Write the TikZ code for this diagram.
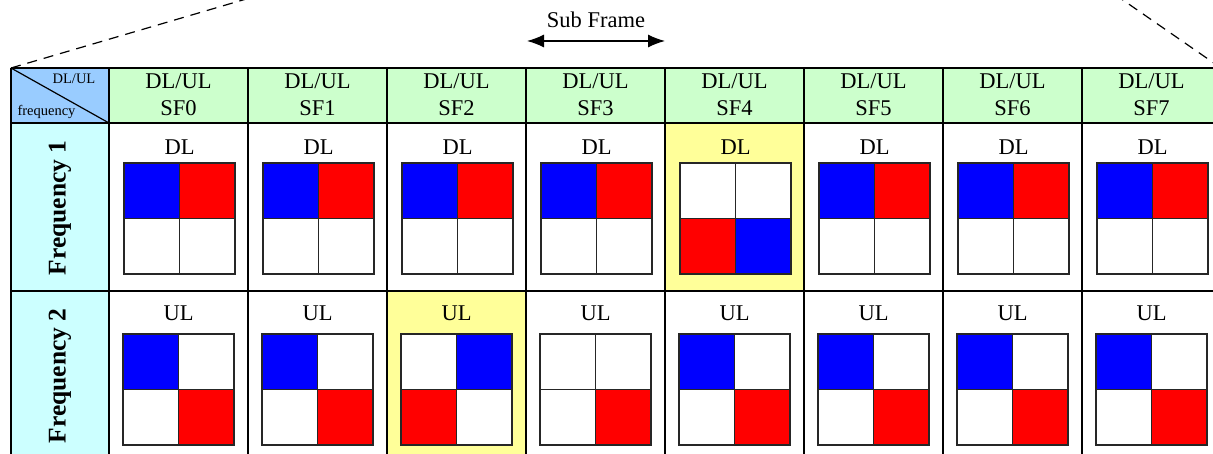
\documentclass[tikz,border=0pt]{standalone}
\usepackage{fontspec}
\setmainfont{Liberation Serif}
\usetikzlibrary{arrows.meta}
\definecolor{hdrgreen}{HTML}{CCFFCC}
\definecolor{cornerblue}{HTML}{99CCFF}
\definecolor{leftcyan}{HTML}{CCFFFF}
\definecolor{hiyellow}{HTML}{FFFF99}
\definecolor{qblue}{HTML}{0000FF}
\definecolor{qred}{HTML}{FF0000}
\begin{document}
\begin{tikzpicture}[x=1pt,y=-1pt,
  gridline/.style={draw=black,line width=1.4pt},
  sq/.style={draw=black!85,line width=1.1pt},
  bigtxt/.style={font=\fontsize{22.5}{27}\selectfont,align=center,inner sep=0pt},
  smalltxt/.style={font=\fontsize{14.5}{16}\selectfont,inner sep=0pt},
  freqtxt/.style={font=\fontsize{25.5}{28}\selectfont\bfseries,rotate=90,inner sep=0pt},
  dashline/.style={dash pattern=on 10pt off 7pt,line width=1.2pt},
  subarrow/.style={{Latex[length=17pt,width=13pt]}-{Latex[length=17pt,width=13pt]},line width=1.2pt}]
\useasboundingbox (0,0) rectangle (1213,454);
\clip (0,0) rectangle (1213,454);
% backgrounds
\fill[cornerblue] (11,68) rectangle (109,123);
\fill[hdrgreen] (109,68) rectangle (1221,123);
\fill[leftcyan] (11,123) rectangle (109,459);
\fill[hiyellow] (665,123) rectangle (804,291);
\fill[hiyellow] (387,291) rectangle (526,459);
% grid
\foreach \yy in {68,123,291} \draw[gridline] (11,\yy) -- (1221,\yy);
\foreach \i in {0,...,8} \draw[gridline] (109+139*\i,68) -- (109+139*\i,460);
\draw[gridline] (11,68) -- (11,460);
% corner cell
\coordinate (ctl) at (11,68);
\coordinate (cbr) at (109,123);
\draw[line width=1.2pt] (ctl) -- (cbr);
\node[smalltxt] (cdl) at (74,79) {DL/UL};
\node[smalltxt] (cfreq) at (46.5,112) {frequency};
% header
\foreach \i in {0,...,7}
  \node[bigtxt] (h\i) at (178.5+139*\i,95) {DL/UL\\SF\i};
% row labels
\node[freqtxt] (f1) at (60,208) {Frequency 1};
\node[freqtxt] (f2) at (60,376) {Frequency 2};
% row 1 DL
\foreach \i/\a/\b/\c/\d in {0/qblue/qred/white/white,1/qblue/qred/white/white,2/qblue/qred/white/white,3/qblue/qred/white/white,4/white/white/qred/qblue,5/qblue/qred/white/white,6/qblue/qred/white/white,7/qblue/qred/white/white}{
  \node[bigtxt] (dl\i) at (178.5+139*\i+1,147) {DL};
  \draw[sq,fill=\a] (109+139*\i+15,163) rectangle ++(55.5,55.5);
  \draw[sq,fill=\b] (109+139*\i+70.5,163) rectangle ++(55.5,55.5);
  \draw[sq,fill=\c] (109+139*\i+15,218.5) rectangle ++(55.5,55.5);
  \draw[sq,fill=\d] (109+139*\i+70.5,218.5) rectangle ++(55.5,55.5);
}
% row 2 UL
\foreach \i/\a/\b/\c/\d in {0/qblue/white/white/qred,1/qblue/white/white/qred,2/white/qblue/qred/white,3/white/white/white/qred,4/qblue/white/white/qred,5/qblue/white/white/qred,6/qblue/white/white/qred,7/qblue/white/white/qred}{
  \node[bigtxt] (ul\i) at (178.5+139*\i,313) {UL};
  \draw[sq,fill=\a] (109+139*\i+14,334) rectangle ++(55.5,55.5);
  \draw[sq,fill=\b] (109+139*\i+69.5,334) rectangle ++(55.5,55.5);
  \draw[sq,fill=\c] (109+139*\i+14,389.5) rectangle ++(55.5,55.5);
  \draw[sq,fill=\d] (109+139*\i+69.5,389.5) rectangle ++(55.5,55.5);
}
% sub frame
\node[bigtxt] (sf) at (596,20) {Sub Frame};
\coordinate (sfl) at (527,41);
\coordinate (sfr) at (665,41);
\draw[subarrow] (sfl) -- (sfr);
% dashed lines
\coordinate (ctr) at (1221,68);
\coordinate (lapex) at (311,-20);
\coordinate (rapex) at (1094,-20);
\draw[dashline] (ctl) -- (lapex);
\draw[dashline] (ctr) -- (rapex);
\end{tikzpicture}
\end{document}
